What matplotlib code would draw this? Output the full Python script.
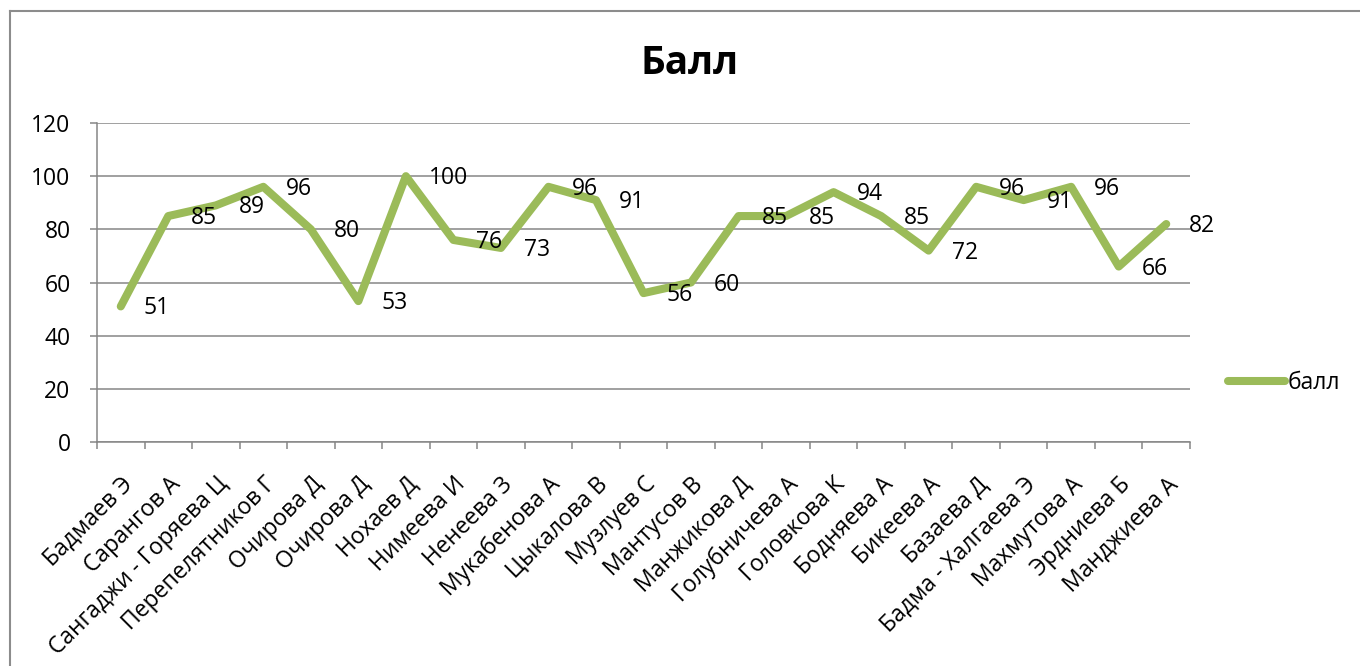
import matplotlib
matplotlib.use("Agg")
import matplotlib.pyplot as plt
from matplotlib.lines import Line2D
import numpy as np

plt.rcParams["font.family"] = ["Open Sans", "DejaVu Sans"]

# %% data
names = [
    "Бадмаев Э", "Сарангов А", "Сангаджи - Горяева Ц", "Перепелятников Г",
    "Очирова Д", "Очирова Д", "Нохаев Д", "Нимеева И", "Ненеева З",
    "Мукабенова А", "Цыкалова В", "Музлуев С", "Мантусов В", "Манжикова Д",
    "Голубничева А", "Головкова К", "Бодняева А", "Бикеева А", "Базаева Д",
    "Бадма - Халгаева Э", "Махмутова А", "Эрдниева Б", "Манджиева А",
]
scores = [51, 85, 89, 96, 80, 53, 100, 76, 73, 96, 91, 56, 60, 85, 85, 94,
          85, 72, 96, 91, 96, 66, 82]
y_ticks = [0, 20, 40, 60, 80, 100, 120]
series_name = "балл"
title = "Балл"

W, H = 1360, 666
green = "#9BBB59"
gray = "#868686"
fs = 16.5

fig = plt.figure(figsize=(W / 100, H / 100), dpi=100)
ax = fig.add_axes([97 / W, 1 - 442 / H, (1190 - 97) / W, (442 - 123) / H])

x = np.arange(len(names))
ax.plot(x, scores, color=green, lw=5.8, solid_joinstyle="round",
        solid_capstyle="round", label=series_name, zorder=3)

for xi, v in zip(x, scores):
    ax.annotate(str(v), (xi, v), xytext=(23, -2), textcoords="offset pixels",
                ha="left", va="center", fontsize=fs, zorder=4)

ax.set_xlim(-0.5, len(names) - 0.5)
ax.set_ylim(0, 120)
ax.set_yticks(y_ticks)
ax.set_yticklabels([str(t) for t in y_ticks], fontsize=fs)
ax.yaxis.grid(True, color=gray, lw=1.1)
ax.set_axisbelow(True)

# labels at category centres, ticks between categories
ax.set_xticks(x)
ax.set_xticklabels(names, rotation=45, ha="right", rotation_mode="anchor",
                   fontsize=fs)
ax.set_xticks(np.arange(len(names) + 1) - 0.5, minor=True)
ax.tick_params(axis="x", which="major", length=0, pad=22)
ax.tick_params(axis="x", which="minor", length=5, width=1.1, color=gray,
               direction="out")
ax.tick_params(axis="y", length=5, width=1.1, color=gray, pad=14)

for s in ["top", "right"]:
    ax.spines[s].set_visible(False)
for s in ["left", "bottom"]:
    ax.spines[s].set_color(gray)
    ax.spines[s].set_linewidth(1.1)

fig.text(690 / W, 1 - 64 / H, title, ha="center", va="center",
         fontsize=28, fontweight="bold")

fig.legend(loc="center left", bbox_to_anchor=(1228 / W, 1 - 383 / H),
           frameon=False, fontsize=fs, handlelength=2.5, handletextpad=0.1,
           borderpad=0, borderaxespad=0)

# chart area border (left and top edges visible)
fig.add_artist(Line2D([10 / W, 10 / W], [0, 1 - 11 / H], color="#8c8c8c",
                      lw=1.5, transform=fig.transFigure))
fig.add_artist(Line2D([10 / W, 1], [1 - 11 / H, 1 - 11 / H], color="#8c8c8c",
                      lw=1.5, transform=fig.transFigure))

fig.savefig("out.png", dpi=100)
